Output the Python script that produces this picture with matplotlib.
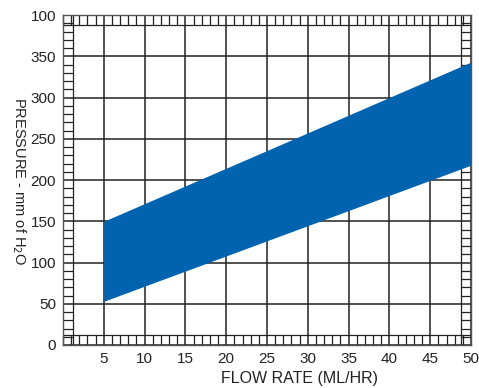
import matplotlib.pyplot as plt
from matplotlib.ticker import MultipleLocator

plt.rcParams['font.family'] = ['Liberation Sans', 'DejaVu Sans']

# Band of pressure vs flow rate
flow = [5, 50]
pressure_low = [53, 218]
pressure_high = [150, 343]

x_ticks = [5, 10, 15, 20, 25, 30, 35, 40, 45, 50]
x_labels = ["5", "10", "15", "20", "25", "30", "35", "40", "45", "50"]
y_ticks = [0, 50, 100, 150, 200, 250, 300, 350, 400]
y_labels = ["0", "50", "100", "150", "200", "250", "300", "350", "100"]

fig = plt.figure(figsize=(4.79, 3.88), dpi=100)
ax = fig.add_axes([63 / 479, 43 / 388, 408 / 479, 330 / 388])

ax.fill_between(flow, pressure_low, pressure_high, color="#0063b0", lw=0, zorder=5)

ax.set_xlim(0, 50)
ax.set_ylim(0, 400)
ax.set_xticks(x_ticks)
ax.set_xticklabels(x_labels)
ax.set_yticks(y_ticks)
ax.set_yticklabels(y_labels)
ax.xaxis.set_minor_locator(MultipleLocator(1))
ax.yaxis.set_minor_locator(MultipleLocator(10))

ax.tick_params(which="major", length=0, labelsize=11, colors="#222222", pad=5)
ax.tick_params(which="minor", direction="in", length=7.2, width=0.9, color="#222222",
               top=True, right=True)
ax.tick_params(which="minor", bottom=True, left=True)

ax.grid(True, which="major", color="#222222", lw=1.1, zorder=1)
ax.set_axisbelow(True)

# inner lines closing the tick strips into small boxes
fx = 10 / 408
fy = 10 / 330
for f in [fx, 1 - fx]:
    ax.plot([f, f], [0, 1], transform=ax.transAxes, color="#222222", lw=0.9, zorder=2)
for f in [fy, 1 - fy]:
    ax.plot([0, 1], [f, f], transform=ax.transAxes, color="#222222", lw=0.9, zorder=2)

for s in ax.spines.values():
    s.set_color("#555555")
    s.set_linewidth(1.0)
    s.set_zorder(6)

ax.set_xlabel("FLOW RATE (ML/HR)", fontsize=11.5, color="#222222")
ax.xaxis.set_label_coords(0.58, -0.08)
ax.set_ylabel("PRESSURE - mm of H$_2$O", fontsize=10.5, color="#222222",
              rotation=270, ha="center", va="center", rotation_mode="anchor")
ax.yaxis.set_label_coords(-0.107, 0.497)

fig.savefig("out.png", dpi=100)
